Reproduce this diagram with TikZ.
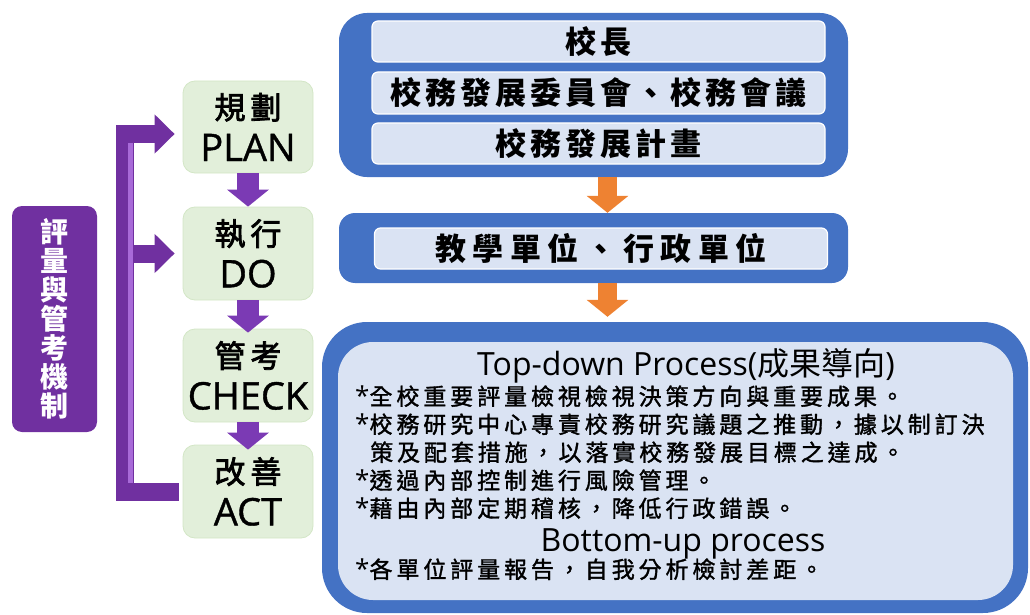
\documentclass[tikz,border=0pt]{standalone}
\usepackage{fontspec}
\setmainfont{Noto Sans CJK TC}
\newfontfamily\cjk{Noto Sans CJK TC}
\newfontfamily\latin{Open Sans}
\usetikzlibrary{arrows.meta}
\definecolor{obblue}{HTML}{4472C4}
\definecolor{inblue}{HTML}{DAE3F3}
\definecolor{grn}{HTML}{E2EFDA}
\definecolor{grnE}{HTML}{D3E6C6}
\definecolor{purp}{HTML}{7030A0}
\definecolor{purpA}{HTML}{7B3AB4}
\definecolor{purpL}{HTML}{A86AD8}
\definecolor{orng}{HTML}{EE8232}
\begin{document}
\begin{tikzpicture}[x=1pt,y=-1pt,
  bluebox/.style={fill=obblue, draw=none, inner sep=0pt},
  innerbox/.style={fill=inblue, draw=white, line width=1.2pt, rounded corners=6pt,
    minimum width=453pt, minimum height=41pt, inner sep=0pt,
    font=\fontsize{31}{36}\selectfont\bfseries},
  gbox/.style={fill=grn, draw=grnE, line width=0.8pt, rounded corners=12pt, minimum width=130pt, minimum height=92pt,
    inner sep=0pt, align=center, font=\fontsize{31}{42}\selectfont},
  parrow/.style={draw=purpA, line width=22pt, -{Triangle[length=17pt,width=41pt]}},
  oarrow/.style={draw=orng, line width=19pt, -{Triangle[length=17pt,width=41pt]}},
  brk/.style={draw=purp, line width=18pt, line join=miter},
  body/.style={anchor=base west, inner sep=0pt, font=\fontsize{23}{28}\selectfont\addfontfeatures{LetterSpace=17,FakeBold=1.5}},
  title/.style={anchor=base, inner sep=0pt, font=\fontsize{32}{36}\selectfont},
]
\useasboundingbox (0,0) rectangle (1030,615);

% left label
\node[fill=purp, rounded corners=10pt, minimum width=85pt, minimum height=226pt,
  inner sep=0pt, align=center, text=white, font=\fontsize{28}{29}\selectfont\bfseries]
  (eval) at (54.5,319) {評\\量\\與\\管\\考\\機\\制};

% PDCA boxes
\newcommand{\gtext}[2]{{\addfontfeatures{LetterSpace=16,FakeBold=2.5}#1}\\{\latin\fontsize{38}{42}\selectfont\addfontfeatures{FakeBold=1}#2}}
\node[gbox] (plan) at (248,127) {\gtext{規劃}{PLAN}};
\node[gbox, minimum height=93pt] (do) at (248,253.5) {\gtext{執行}{DO}};
\node[gbox, minimum height=93pt] (check) at (248,375.5) {\gtext{管考}{CHECK}};
\node[gbox, minimum height=93pt] (act) at (248,491.5) {\gtext{改善}{ACT}};

\draw[parrow] (plan.south) -- (do.north);
\draw[parrow] (do.south) -- ([yshift=-4pt]check.north);
\draw[parrow] (check.south) -- ([yshift=-5pt]act.north);

% bracket
\coordinate (barx) at (125,0);
\coordinate (pl) at ([yshift=-7pt]plan.west);
\draw[brk, -{Triangle[length=20pt,width=38pt]}, shorten >=8pt]
  ([xshift=-4pt]act.west) -| (barx |- pl) -- (pl);
\draw[brk, -{Triangle[length=20pt,width=38pt]}, shorten >=8pt]
  (barx |- do.west) -- (do.west);
\draw[purpL, line width=5pt] (130,143) -- (130,483);

% right side boxes
\node[bluebox, rounded corners=28pt, minimum width=509pt, minimum height=164pt] (top) at (593.5,95) {};
\node[innerbox] (head) at (598.5,41.5) {\addfontfeatures{LetterSpace=13}校長};
\node[innerbox, minimum height=42pt] (comm) at (598.5,93) {\addfontfeatures{LetterSpace=13}校務發展委員會、校務會議};
\node[innerbox] (plandoc) at (598.5,143.5) {\addfontfeatures{LetterSpace=13}校務發展計畫};

\node[bluebox, rounded corners=16pt, minimum width=509pt, minimum height=70pt] (mid) at (593.5,248) {};
\node[innerbox] (units) at (601,248.5) {\addfontfeatures{LetterSpace=21}教學單位、行政單位};

\node[bluebox, rounded corners=45pt, minimum width=706pt, minimum height=291pt] (bot) at (675,467.5) {};
\node[fill=inblue, rounded corners=35pt, minimum width=675pt, minimum height=258pt, inner sep=0pt] (botin) at (675.5,471) {};

\draw[oarrow] ([xshift=14pt]top.south) -- ([xshift=14pt]mid.north);
\draw[oarrow, shorten >=5pt] ([xshift=14pt]mid.south) -- ([xshift=14pt]mid.south |- bot.north);

% bottom text
\node[title] (td) at (686,375) {\latin Top-down Process(\cjk 成果導向\latin )};
\node[body] (l1) at (355,405) {{\latin\fontsize{26}{28}\selectfont *}全校重要評量檢視檢視決策方向與重要成果。};
\node[body] (l2) at (355,433) {{\latin\fontsize{26}{28}\selectfont *}校務研究中心專責校務研究議題之推動，據以制訂決};
\node[body] (l3) at (370,461) {策及配套措施，以落實校務發展目標之達成。};
\node[body] (l4) at (355,489) {{\latin\fontsize{26}{28}\selectfont *}透過內部控制進行風險管理。};
\node[body] (l5) at (355,517) {{\latin\fontsize{26}{28}\selectfont *}藉由內部定期稽核，降低行政錯誤。};
\node[title] (bu) at (683,551) {\latin Bottom-up process};
\node[body] (l6) at (355,578) {{\latin\fontsize{26}{28}\selectfont *}各單位評量報告，自我分析檢討差距。};
\end{tikzpicture}
\end{document}
